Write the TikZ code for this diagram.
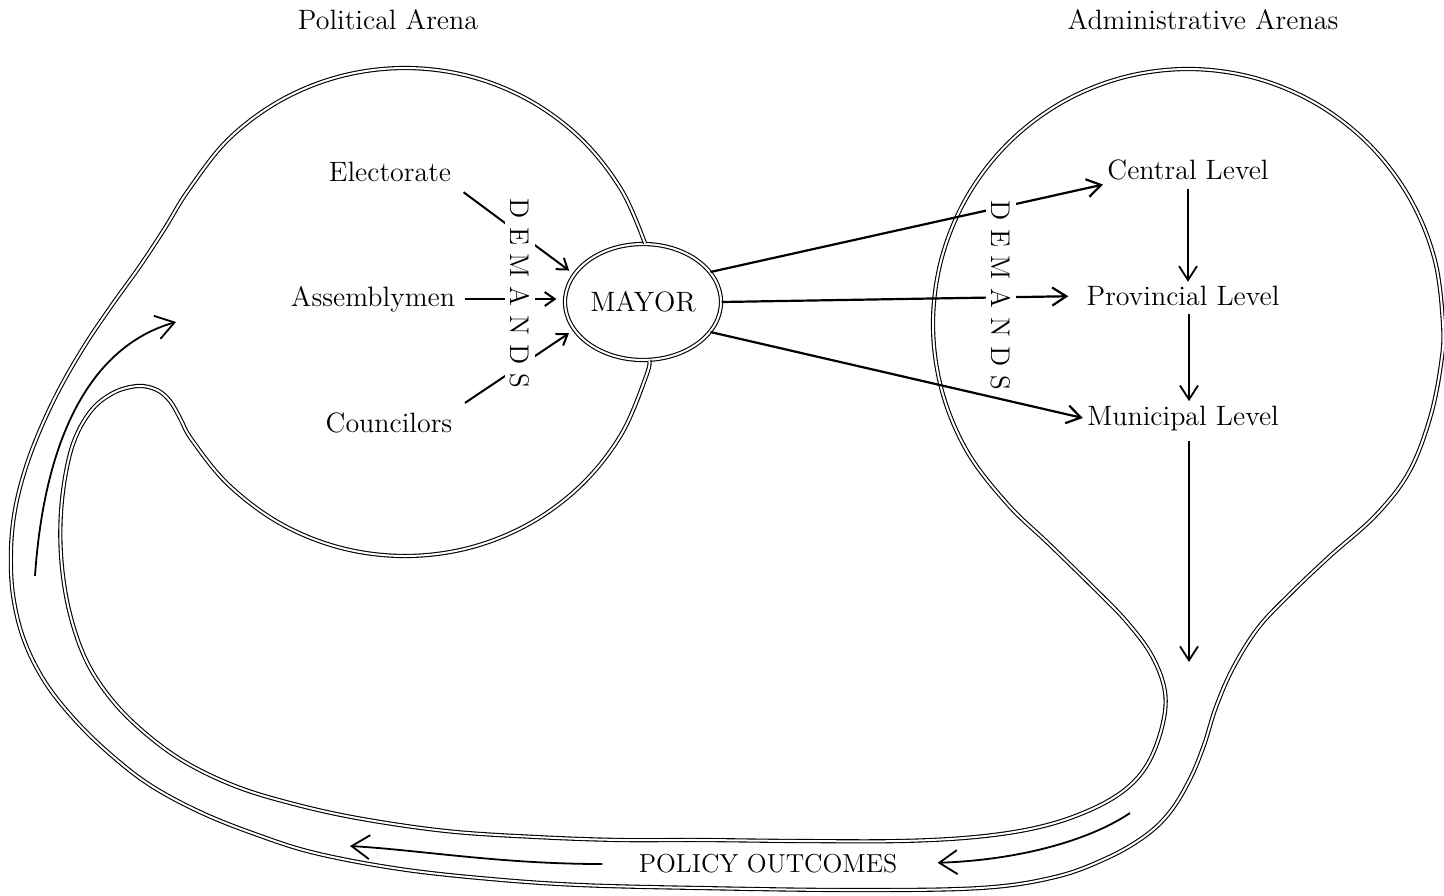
\documentclass[tikz,border=0pt]{standalone}
\usetikzlibrary{arrows.meta,shapes.geometric}

\begin{document}
\begin{tikzpicture}[x=0.5pt, y=-0.5pt, every node/.style={font=\fontsize{14}{17}\selectfont, inner sep=2pt}, wall/.style={draw, line width=0.55pt, double=white, double distance=1pt}, arr/.style={-{Straight Barb[length=5pt,width=7pt]}, line width=1pt}, order/.style={-{Straight Barb[length=7pt,width=9pt]}, line width=1.1pt}, flow/.style={-{Straight Barb[length=9pt,width=12pt]}, line width=0.9pt}, demands/.style={rotate=-90, fill=white, inner xsep=0pt, inner ysep=2.5pt, font=\fontsize{13.5}{16}\selectfont}]
\fill[white] (0,0) rectangle (1444,895);
\useasboundingbox (0,0) rectangle (1444,895);

\node (political) at (388,20) {Political Arena};
\node (administrative) at (1203,20) {Administrative Arenas};
\node (electorate) at (390,172) {Electorate};
\node (assembly) at (373,299) {Assemblymen};
\node (councilors) at (389,423) {Councilors};
\node[ellipse, wall, minimum width=78pt, minimum height=58pt, inner sep=0pt] (mayor) at (643,302) {MAYOR};
\node (central) at (1188,170) {Central Level};
\node (provincial) at (1183,296) {Provincial Level};
\node (municipal) at (1183,418) {Municipal Level};
\node[font=\fontsize{13}{16}\selectfont] (outcomes) at (768,864) {POLICY OUTCOMES};

% political arena, outer wall, administrative arena, inner wall, back to the mayor
\draw[wall] plot[smooth, tension=0.6] coordinates {
  (mayor.88) (621.5,190) (581.8,139.5) (530,100.7) (469.7,76.3) (405,68) (340.3,76.3) (280,100.7) (228.2,139.5) (188.5,190)
  (165,228) (140,266) (112,305) (85,345) (60,388) (40,430) (25,470) (15,510) (11,550) (13,595) (24,640) (45,682) (75,720) (110,754) (150,785) (200,812) (255,834) (315,853) (400,869) (491,879) (580,885) (700,888) (850,890) (980,888) (1055,877) (1107,858) (1145,836) (1170,812) (1190,779) (1204,745) (1216,707) (1233,668) (1258,628) (1290,594) (1330,556) (1376,515) (1409,472) (1430,418) (1441,364)
  (1443,324) (1434.3,258) (1408.8,196.5) (1368.3,143.7) (1315.5,103.2) (1254,77.7) (1188,69) (1122,77.7) (1060.5,103.2) (1007.7,143.7) (967.2,196.5) (941.7,258) (933,324) (941.7,390) (967.2,451.5) (1007.7,504.3)
  (1049,544) (1096,590) (1127,622) (1152,656) (1165,692) (1162,727) (1147,765) (1122,792) (1083,813) (1035,828) (975,837) (900,841) (800,841) (700,840) (620,840) (536,837) (446,831) (357,818) (290,803) (235,786) (185,762) (145,733) (112,700) (86,660) (69,610) (61,555) (62,500) (72,447) (90,412) (113,393) (138,386) (157,390) (170,401) (180,418)
  (192,440) (228.2,484.5) (280,523.3) (340.3,547.7) (405,556) (469.7,547.7) (530,523.3) (581.8,484.5) (621.5,434) (646.5,375.2) (mayor.-84)};

\draw[arr, shorten <=5pt, shorten >=3pt] (electorate.south east) -- (mayor.158);
\draw[arr, shorten <=3pt, shorten >=4pt] (assembly.east) -- (assembly.east -| mayor.west);
\draw[arr, shorten <=5pt, shorten >=3pt] (councilors.north east) -- (mayor.202);

\draw[order] (mayor.24) -- (central.south west);
\draw[order, shorten >=7pt] (mayor.east) -- (provincial.west);
\draw[order] (mayor.-24) -- (municipal.west);

\coordinate (drop) at (1189,662);
\draw[order, line width=0.9pt, shorten <=2pt] (central.south) -- (central.south |- provincial.north);
\draw[order, line width=0.9pt, shorten <=2pt] (provincial.south -| drop) -- (municipal.north -| drop);
\draw[order, line width=0.9pt, shorten <=3pt] (municipal.south -| drop) -- (drop);

\coordinate (rise) at (35,576);
\coordinate (risetip) at (176,322);
\coordinate (backtip) at (350,846);
\coordinate (inflow) at (1130,813);
\draw[flow] (rise) .. controls (45,430) and (95,345) .. (risetip);
\draw[flow, shorten <=16pt] (outcomes.west) .. controls (500,864) and (420,850) .. (backtip);
\draw[flow, shorten >=18pt] (inflow) .. controls (1090,840) and (1020,860) .. (outcomes.east);

\node[demands] (demandsL) at (520,293) {D E M A N D S};
\node[demands] (demandsR) at (1001,295) {D E M A N D S};
\end{tikzpicture}
\end{document}
